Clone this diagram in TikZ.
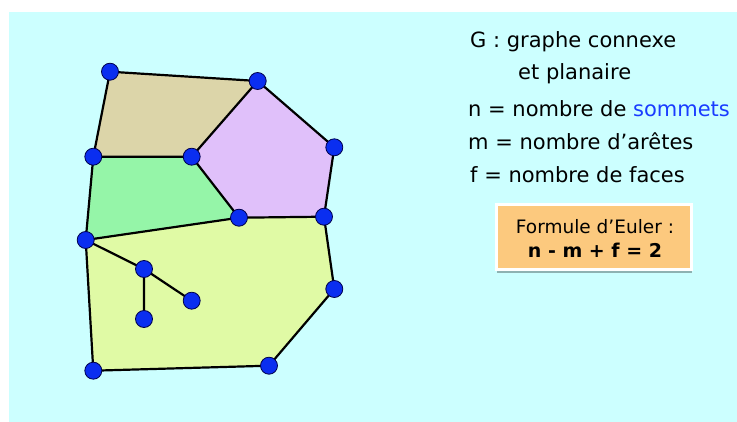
\documentclass[tikz,border=0pt]{standalone}
\usepackage{fontspec}
\setmainfont{DejaVu Sans}
\usetikzlibrary{shadows}
\definecolor{bgc}{HTML}{CCFFFF}
\definecolor{tanc}{HTML}{DCD5A9}
\definecolor{purc}{HTML}{E0C0FA}
\definecolor{grnc}{HTML}{95F5A8}
\definecolor{ylwc}{HTML}{E0FAA5}
\definecolor{vtx}{HTML}{0A2EF0}
\definecolor{boxc}{HTML}{FCC97E}
\definecolor{sblue}{HTML}{1A3CFF}
\tikzset{
  vert/.style={circle,fill=vtx,draw=black!70!blue,line width=0.8pt,minimum size=17pt,inner sep=0pt},
  edge/.style={line width=2.2pt,black},
  txt/.style={anchor=base west,inner sep=0pt,font=\fontsize{21}{25}\selectfont},
}
\begin{document}
\begin{tikzpicture}[x=1pt,y=-1pt]
\useasboundingbox (0,0) rectangle (737,422);
\fill[white] (0,0) rectangle (737,422);
\fill[bgc] (9,12) rectangle (737,422);
% coordinates
\coordinate (A) at (110,71.7);
\coordinate (B) at (257.7,81);
\coordinate (C) at (93.3,156.7);
\coordinate (D) at (191.7,156.7);
\coordinate (E) at (334.3,147.3);
\coordinate (F) at (239,217.7);
\coordinate (G) at (324,216.7);
\coordinate (H) at (85.7,240);
\coordinate (I) at (144,269);
\coordinate (J) at (191.7,300.7);
\coordinate (K) at (144,319);
\coordinate (L) at (334.3,289);
\coordinate (M) at (269,365.7);
\coordinate (N) at (93.3,370.7);
% faces
\fill[tanc] (A) -- (B) -- (D) -- (C) -- cycle;
\fill[purc] (B) -- (E) -- (G) -- (F) -- (D) -- cycle;
\fill[grnc] (C) -- (D) -- (F) -- (H) -- cycle;
\fill[ylwc] (H) -- (F) -- (G) -- (L) -- (M) -- (N) -- cycle;
% edges
\draw[edge] (A) -- (B) (A) -- (C) (B) -- (D) (B) -- (E) (C) -- (D) (C) -- (H)
  (D) -- (F) (E) -- (G) (F) -- (G) (H) -- (F) (G) -- (L) (L) -- (M) (M) -- (N)
  (N) -- (H) (H) -- (I) (I) -- (J) (I) -- (K);
% vertices
\foreach \v in {A,B,C,D,E,F,G,H,I,J,K,L,M,N}
  \node[vert] (v\v) at (\v) {};
% text
\node[txt] (t1) at (470,48) {G : graphe connexe};
\node[txt] (t2) at (518,80) {et planaire};
\node[txt] (t3) at (468,116.7) {n = nombre de \textcolor{sblue}{sommets}};
\node[txt] (t4) at (468,150) {m = nombre d’arêtes};
\node[txt] (t5) at (470,183) {f = nombre de faces};
% box
\node[draw=white,line width=3pt,fill=boxc,minimum width=195pt,minimum height=65pt,
  drop shadow={shadow xshift=0pt,shadow yshift=-3.5pt,opacity=0.3,fill=black},
  inner sep=0pt] (box) at (594,237.5) {};
\node[anchor=base,inner sep=0pt,font=\fontsize{18.5}{22}\selectfont] (f1) at (595,234) {Formule d’Euler :};
\node[anchor=base,inner sep=0pt,font=\fontsize{19}{22}\selectfont\bfseries] (f2) at (595,258) {n - m + f = 2};
\end{tikzpicture}
\end{document}
